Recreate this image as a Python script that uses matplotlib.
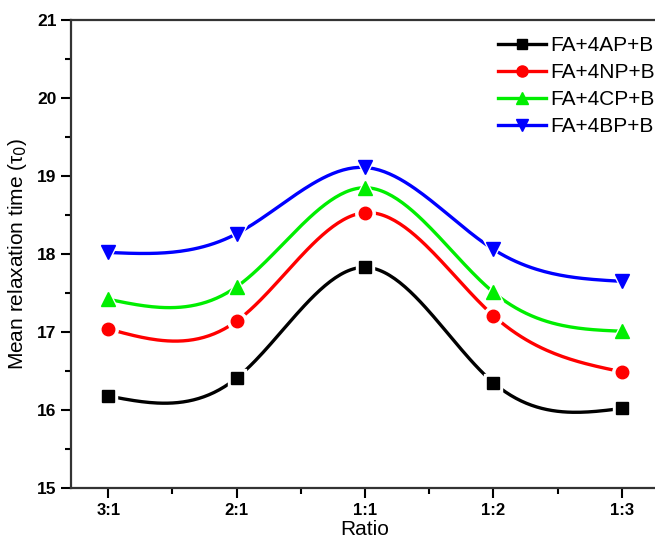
import numpy as np
import matplotlib.pyplot as plt

plt.rcParams['font.family'] = ['Liberation Sans', 'DejaVu Sans']

ratios = ["3:1", "2:1", "1:1", "1:2", "1:3"]
ap = [16.18, 16.41, 17.83, 16.35, 16.02]
np_ = [17.04, 17.14, 18.53, 17.21, 16.49]
cp = [17.42, 17.58, 18.85, 17.51, 17.01]
bp = [18.02, 18.26, 19.11, 18.06, 17.65]
labels = ["FA+4AP+B", "FA+4NP+B", "FA+4CP+B", "FA+4BP+B"]


def natural_spline(x, y, n=200):
    # plain natural cubic spline, no scipy needed
    x = np.asarray(x, float)
    y = np.asarray(y, float)
    k = len(x)
    h = np.diff(x)
    A = np.zeros((k, k))
    b = np.zeros(k)
    A[0, 0] = A[-1, -1] = 1
    for i in range(1, k - 1):
        A[i, i - 1] = h[i - 1]
        A[i, i] = 2 * (h[i - 1] + h[i])
        A[i, i + 1] = h[i]
        b[i] = 6 * ((y[i + 1] - y[i]) / h[i] - (y[i] - y[i - 1]) / h[i - 1])
    m = np.linalg.solve(A, b)
    xs = np.linspace(x[0], x[-1], n)
    idx = np.clip(np.searchsorted(x, xs) - 1, 0, k - 2)
    x0, x1 = x[idx], x[idx + 1]
    hh = x1 - x0
    t0, t1 = x1 - xs, xs - x0
    ys = (m[idx] * t0**3 + m[idx + 1] * t1**3) / (6 * hh) \
        + (y[idx] / hh - m[idx] * hh / 6) * t0 \
        + (y[idx + 1] / hh - m[idx + 1] * hh / 6) * t1
    return xs, ys


fig = plt.figure(figsize=(6.55, 5.44), dpi=100)
ax = fig.add_axes([0.1084, 0.1029, 0.8977, 0.8603])

x = np.arange(len(ratios))
series = [(ap, 'black', 's', 8), (np_, 'red', 'o', 9),
          (cp, '#00ee00', '^', 9.5), (bp, 'blue', 'v', 9.5)]
handles = []
for (vals, col, mk, ms), lab in zip(series, labels):
    xs, ys = natural_spline(x, vals)
    ax.plot(xs, ys, color=col, lw=2.4, zorder=2)
    # white halo gives the small gap between line and marker
    ax.plot(x, vals, ls='none', marker=mk, ms=ms + 5, color='white', zorder=3)
    ax.plot(x, vals, ls='none', marker=mk, ms=ms, color=col, zorder=4)
    h, = ax.plot([], [], color=col, lw=2.4, marker=mk, ms=ms - 1)
    handles.append(h)

ax.set_xlim(-0.29, 4.29)
ax.set_ylim(15, 21)
ax.set_xticks(x)
ax.set_xticklabels(ratios, fontweight='bold', fontsize=12)
ax.set_xticks(x[:-1] + 0.5, minor=True)
ax.set_yticks(range(15, 22))
ax.set_yticklabels([str(v) for v in range(15, 22)], fontweight='bold', fontsize=12.5)
ax.set_yticks(np.arange(15.5, 21, 1.0), minor=True)
ax.tick_params(which='major', direction='out', length=7, width=1.5)
ax.tick_params(which='minor', direction='out', length=4, width=1.5)
for s in ax.spines.values():
    s.set_linewidth(1.6)
    s.set_color('#333333')

ax.set_xlabel("Ratio", fontsize=15, labelpad=2)
ax.set_ylabel("Mean relaxation time (τ$_0$)", fontsize=15, labelpad=6)

fig.legend(handles, labels, loc='upper left', bbox_to_anchor=(0.761, 0.933),
           frameon=False, fontsize=15, handlelength=2.3, handletextpad=0.2,
           labelspacing=0.38, borderpad=0, borderaxespad=0)

fig.savefig("out.png", dpi=100)
